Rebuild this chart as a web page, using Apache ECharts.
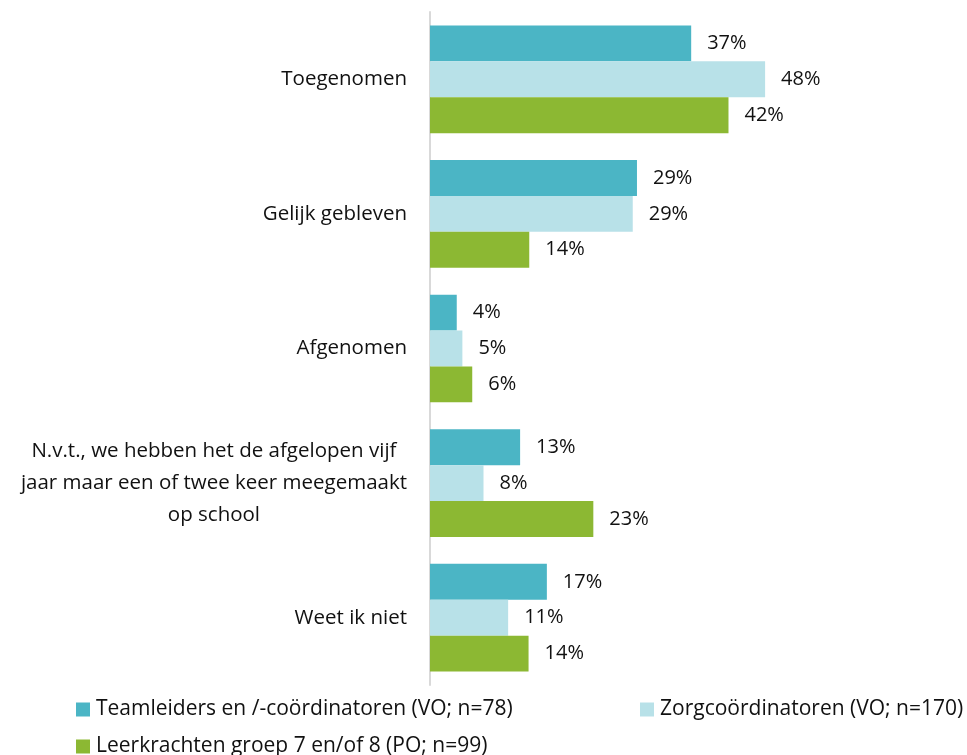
<!DOCTYPE html>
<html>
<head>
<meta charset="utf-8">
<script src="https://cdn.jsdelivr.net/npm/echarts@6/dist/echarts.min.js"></script>
<style>
  html, body { margin: 0; padding: 0; background: #fff; }
  #chart { width: 967px; height: 755px; }
</style>
</head>
<body>
<div id="chart"></div>
<script>
const categories = [
  "Toegenomen",
  "Gelijk gebleven",
  "Afgenomen",
  "N.v.t., we hebben het de afgelopen vijf\njaar maar een of twee keer meegemaakt\nop school",
  "Weet ik niet"
];
const seriesNames = [
  "Teamleiders en /-coördinatoren (VO; n=78)",
  "Zorgcoördinatoren (VO; n=170)",
  "Leerkrachten groep 7 en/of 8 (PO; n=99)"
];
// labels show them rounded
const teamleiders = [37.1, 29.4, 3.8, 12.8, 16.6];
const zorgcoordinatoren = [47.6, 28.8, 4.6, 7.6, 11.1];
const leerkrachten = [42.4, 14.1, 6.0, 23.2, 14.0];
const colors = ["#4bb5c5", "#b8e1e8", "#8cb833"];

const font = "'Open Sans', sans-serif";
const textColor = "#111111";

function legendAt(name, left, top) {
  return {
    data: [name],
    left: left,
    top: top,
    icon: "rect",
    itemWidth: 14,
    itemHeight: 14,
    itemGap: 0,
    selectedMode: false,
    textStyle: { fontFamily: font, fontSize: 21, color: textColor, padding: [0, 0, 0, 1] }
  };
}

const chart = echarts.init(document.getElementById("chart"));
chart.setOption({
  animation: false,
  grid: { left: 430, right: 114.6, top: 12, bottom: 70, containLabel: false },
  legend: [
    legendAt(seriesNames[0], 71, 694),
    legendAt(seriesNames[1], 635, 694),
    legendAt(seriesNames[2], 71, 731)
  ],
  xAxis: {
    type: "value",
    min: 0,
    max: 60,
    show: false
  },
  yAxis: {
    type: "category",
    inverse: true,
    data: categories,
    axisTick: { show: false },
    axisLine: { lineStyle: { color: "#d9d9d9", width: 2 } },
    axisLabel: {
      margin: 23,
      color: textColor,
      fontFamily: font,
      fontSize: 20.5,
      lineHeight: 32,
      formatter: (value) => value.split("\n").map((line) => "{c|" + line + "}").join("\n"),
      rich: {
        c: { align: "center", fontFamily: font, fontSize: 20.5, lineHeight: 32, color: textColor }
      }
    }
  },
  series: [teamleiders, zorgcoordinatoren, leerkrachten].map((values, index) => ({
    type: "bar",
    name: seriesNames[index],
    data: values,
    barGap: "0%",
    barCategoryGap: "20%",
    itemStyle: { color: colors[index] },
    label: {
      show: true,
      position: "right",
      distance: 16,
      color: textColor,
      fontFamily: font,
      fontSize: 20,
      formatter: (params) => Math.round(params.value) + "%"
    }
  }))
});
</script>
</body>
</html>
